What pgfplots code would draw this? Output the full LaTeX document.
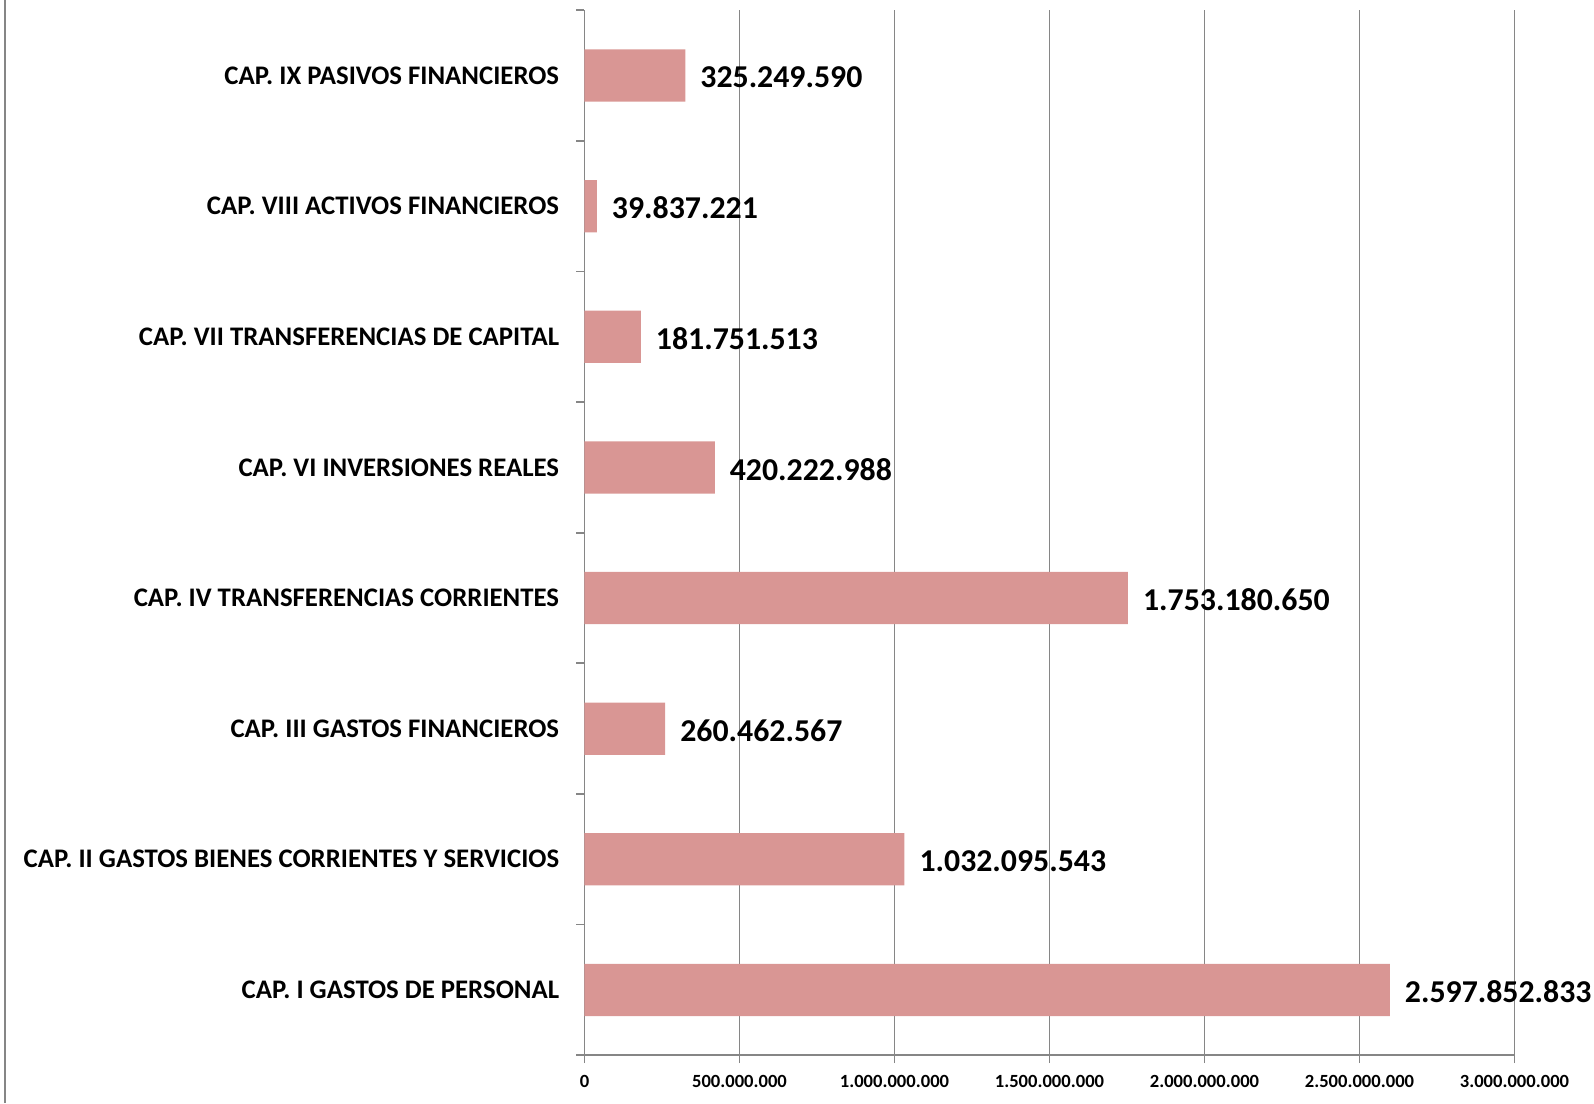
\documentclass[border=0pt]{standalone}
\usepackage{pgfplots}
\pgfplotsset{compat=1.18}
\usepackage{pgfplotstable}
\usepackage{fontspec}
\setmainfont{Carlito}
\definecolor{barred}{HTML}{D99694}
\definecolor{axgray}{HTML}{868686}
\pgfplotstableread[col sep=comma]{
y,x,lab
0,2597852833,2.597.852.833
1,1032095543,1.032.095.543
2,260462567,260.462.567
3,1753180650,1.753.180.650
4,420222988,420.222.988
5,181751513,181.751.513
6,39837221,39.837.221
7,325249590,325.249.590
}\datatable
\begin{document}
\begin{tikzpicture}
\begin{axis}[
  at={(0,0)}, anchor=south west,
  scale only axis,
  width=465pt, height=522.5pt,
  xmin=0, xmax=3000000000,
  ymin=-0.5, ymax=7.5,
  axis x line*=bottom, axis y line*=left,
  axis line style={axgray, line width=0.9pt},
  xtick={0,500000000,1000000000,1500000000,2000000000,2500000000,3000000000},
  xticklabels={0,500.000.000,1.000.000.000,1.500.000.000,2.000.000.000,2.500.000.000,3.000.000.000},
  scaled x ticks=false,
  xmajorgrids,
  grid style={axgray, line width=0.9pt},
  ytick={-0.5,0.5,...,7.5},
  yticklabels={},
  tick align=outside,
  major tick length=4pt,
  tick style={axgray, line width=0.9pt},
  extra y ticks={0,1,2,3,4,5,6,7},
  extra y tick labels={CAP. I GASTOS DE PERSONAL,CAP. II GASTOS BIENES CORRIENTES Y SERVICIOS,CAP. III GASTOS FINANCIEROS,CAP. IV TRANSFERENCIAS CORRIENTES,CAP. VI INVERSIONES REALES,CAP. VII TRANSFERENCIAS DE CAPITAL,CAP. VIII ACTIVOS FINANCIEROS,CAP. IX PASIVOS FINANCIEROS},
  extra y tick style={major tick length=0pt, yticklabel style={font=\fontsize{13.4}{15}\selectfont\bfseries, inner sep=0pt, xshift=-12.5pt}},
  xticklabel style={font=\fontsize{9.3}{11}\selectfont\bfseries, yshift=-2.5pt},
  clip=false,
]
\addplot[xbar, bar width=0.4, fill=barred, draw=none,
  point meta=explicit symbolic,
  nodes near coords,
  nodes near coords style={font=\fontsize{15.9}{18}\selectfont\bfseries, anchor=west, xshift=4pt, yshift=-1pt, text=black},
] table[x=x, y=y, meta=lab] {\datatable};
\end{axis}
\draw[axgray, line width=0.9pt] (-289.75pt,-24pt) -- (-289.75pt,527.6pt);
\pgfresetboundingbox
\path (-292.25pt,-24pt) rectangle (504.75pt,527.6pt);
\end{tikzpicture}
\end{document}
